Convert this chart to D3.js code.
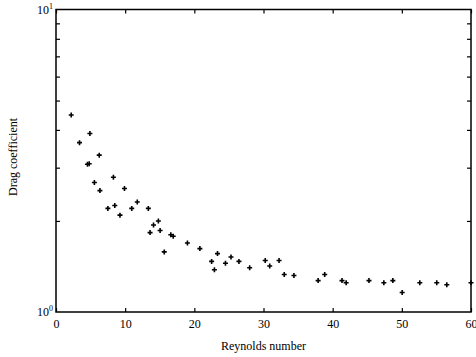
<!DOCTYPE html>
<html>
<head>
<meta charset="utf-8">
<script src="https://cdn.jsdelivr.net/npm/d3@7/dist/d3.min.js"></script>
<style>
  body { margin: 0; background: #fff; }
  svg { display: block; font-family: "Liberation Serif", "DejaVu Serif", serif; }
  .axis path { display: none; }
  .axis line { stroke: #000; stroke-width: 1.2; }
  .axis text { font-size: 12px; fill: #000; font-family: "Liberation Serif", serif; }
</style>
</head>
<body>
<div id="chart"></div>
<script>
// Reynolds number vs drag coefficient
var reynolds = [2.2, 3.4, 4.9, 4.55, 4.8, 6.25, 5.55, 6.35, 8.3, 7.5, 8.5, 9.25, 9.9, 10.95,
    11.75, 13.35, 14.1, 14.8, 13.6, 15.05, 15.65, 16.6, 16.95, 19.0, 20.8, 23.35, 22.5,
    22.9, 24.5, 25.3, 26.45, 28.0, 30.25, 30.9, 32.25, 33.0, 34.4, 37.9, 38.85, 41.35,
    41.95, 45.25, 47.4, 48.7, 50.05, 52.6, 55.05, 56.5, 60.0];
var drag = [4.48, 3.63, 3.89, 3.08, 3.09, 3.30, 2.68, 2.52, 2.79, 2.20, 2.25, 2.09, 2.56, 2.20,
    2.31, 2.20, 1.94, 2.00, 1.83, 1.86, 1.58, 1.80, 1.78, 1.69, 1.62, 1.56, 1.47,
    1.38, 1.45, 1.52, 1.47, 1.40, 1.48, 1.42, 1.48, 1.33, 1.32, 1.27, 1.33, 1.27,
    1.25, 1.27, 1.25, 1.27, 1.16, 1.25, 1.25, 1.23, 1.25];
var xTicks = [0, 10, 20, 30, 40, 50, 60];
var yMinor = [2, 3, 4, 5, 6, 7, 8, 9];
var yMajor = [{v: 1, exp: "0"}, {v: 10, exp: "1"}];

var W = 476, H = 357;
var pL = 56, pR = 471, pT = 9.5, pB = 312;

var svg = d3.select("#chart").append("svg")
    .attr("width", W)
    .attr("height", H);

var x = d3.scaleLinear().domain([0, 60]).range([pL, pR]);
var y = d3.scaleLog().domain([1, 10]).range([pB, pT]);

// bottom axis with labels, ticks pointing inward
svg.append("g").attr("class", "axis")
    .attr("transform", "translate(0," + pB + ")")
    .call(d3.axisBottom(x).tickValues(xTicks).tickSizeInner(-4).tickSizeOuter(0).tickPadding(7));
svg.append("g").attr("class", "axis")
    .attr("transform", "translate(0," + pT + ")")
    .call(d3.axisTop(x).tickValues(xTicks).tickSizeInner(-4).tickSizeOuter(0).tickFormat(""));
svg.append("g").attr("class", "axis")
    .attr("transform", "translate(" + pL + ",0)")
    .call(d3.axisLeft(y).tickValues(yMinor).tickSizeInner(-4).tickSizeOuter(0).tickFormat(""));
svg.append("g").attr("class", "axis")
    .attr("transform", "translate(" + pR + ",0)")
    .call(d3.axisRight(y).tickValues(yMinor).tickSizeInner(-4).tickSizeOuter(0).tickFormat(""));

// frame
svg.append("rect")
    .attr("x", pL).attr("y", pT)
    .attr("width", pR - pL).attr("height", pB - pT)
    .attr("fill", "none")
    .attr("stroke", "#000")
    .attr("stroke-width", 1.5);

// 10^0, 10^1 labels
yMajor.forEach(function(d) {
    var t = svg.append("text")
        .attr("x", pL - 3)
        .attr("y", y(d.v) + 4)
        .attr("text-anchor", "end")
        .style("font-size", "12px");
    t.append("tspan").text("10");
    t.append("tspan").attr("dy", -5).style("font-size", "8px").text(d.exp);
});

// data markers (+)
var pts = reynolds.map(function(r, i) { return {x: r, y: drag[i]}; });
svg.append("g").selectAll("path")
    .data(pts)
    .enter()
    .append("path")
    .attr("d", function(d) {
        var cx = x(d.x), cy = y(d.y);
        return "M" + (cx - 2.5) + "," + cy + "H" + (cx + 2.5) +
               "M" + cx + "," + (cy - 2.5) + "V" + (cy + 2.5);
    })
    .attr("stroke", "#000")
    .attr("stroke-width", 1.6)
    .attr("fill", "none");

// axis titles
svg.append("text")
    .attr("x", (pL + pR) / 2)
    .attr("y", 350)
    .attr("text-anchor", "middle")
    .style("font-size", "12px")
    .text("Reynolds number");

svg.append("text")
    .attr("transform", "translate(17,157) rotate(-90)")
    .attr("text-anchor", "middle")
    .style("font-size", "12px")
    .text("Drag coefficient");
</script>
</body>
</html>
